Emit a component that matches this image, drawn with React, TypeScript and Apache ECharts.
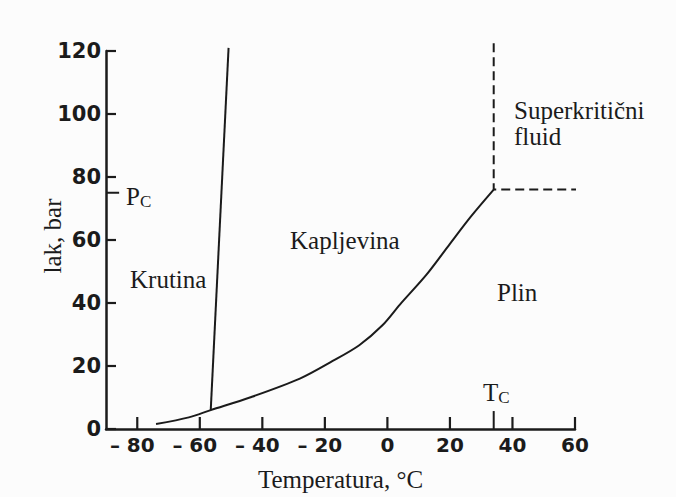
import React, { useEffect, useRef } from "react";
import * as echarts from "echarts";

// ---- data ----
const xTicks = [-80, -60, -40, -20, 0, 20, 40, 60];
const yTicks = [0, 20, 40, 60, 80, 100, 120];

// melting (solid/liquid) line
const meltT = [-56.5, -50.8];
const meltP = [6, 121];

// sublimation + vaporization curve up to the critical point
const vapT = [-74, -63.5, -56.5, -44, -28, -17.5, -9, -1.5, 4, 12.5, 20, 27, 34];
const vapP = [1.6, 3.7, 6, 10, 16, 21.6, 26.6, 33, 39.5, 49, 58.8, 67.8, 76];

// supercritical boundary (dashed)
const superT = [34, 34, 85];
const superP = [122.5, 76, 76];

// critical values marked on the axes
const Tc = 34;
const Pc = 75;

const INK = "#1b1b1b";
const SERIF = "'Liberation Serif', 'Times New Roman', serif";
const SANS = "'DejaVu Sans', sans-serif";

const zip = (a: number[], b: number[]) => a.map((v, i) => [v, b[i]]);

export default function App() {
  const ref = useRef<HTMLDivElement>(null);
  useEffect(() => {
    const chart = echarts.init(ref.current!, null, { renderer: "svg" });
    const labelRich = {
      n: { fontFamily: SANS, fontWeight: "bold", fontSize: 20, color: INK },
      h: { fontFamily: SANS, fontWeight: "bold", fontSize: 20, color: "transparent" },
    };
    const subRich = {
      a: { fontFamily: SERIF, fontSize: 25, fill: INK, color: INK },
      b: { fontFamily: SERIF, fontSize: 17, fill: INK, color: INK, padding: [10, 0, 0, 0] },
    };
    const textEl = (text: string, x: number, y: number) => ({
      type: "text",
      x,
      y,
      style: { text, font: `25px ${SERIF}`, fill: INK, align: "left", verticalAlign: "middle" },
    });
    const xMin = -90;
    const line = (name: string, data: any[], extra: any = {}) => ({
      name,
      type: "line",
      data,
      symbol: "none",
      clip: false,
      silent: true,
      lineStyle: { color: INK, width: 2, ...extra },
    });
    // tick marks: positioned by the axes, length in pixels
    const tickSeries = (name: string, vals: number[], horizontal: boolean, len: number) => ({
      name,
      type: "custom",
      coordinateSystem: "cartesian2d",
      silent: true,
      clip: false,
      data: vals.map((v) => (horizontal ? [xMin, v] : [v, 0])),
      encode: { x: 0, y: 1 },
      renderItem: (params: any, api: any) => {
        const p = api.coord([api.value(0), api.value(1)]);
        const shape = horizontal
          ? { x1: p[0], y1: p[1], x2: p[0] + len, y2: p[1] }
          : { x1: p[0], y1: p[1], x2: p[0], y2: p[1] - len };
        return { type: "line", shape, style: { stroke: INK, lineWidth: 2.2 } };
      },
    });
    const option: any = {
      animation: false,
      backgroundColor: "#fcfcfc",
      grid: { left: 106, top: 51, width: 469, height: 380, containLabel: false },
      xAxis: {
        type: "value",
        min: xMin,
        max: 60,
        name: "Temperatura, °C",
        nameLocation: "middle",
        nameGap: 38,
        nameTextStyle: { fontFamily: SERIF, fontSize: 25, color: INK },
        axisLine: { show: true, onZero: false, lineStyle: { color: INK, width: 2.5 } },
        axisTick: { show: false },
        axisLabel: {
          show: true,
          customValues: xTicks.slice(),
          margin: 6,
          formatter: (v: number) => (v < 0 ? `{n|– ${-v}}{h|–}` : `{n|${v}}`),
          rich: labelRich,
        },
        splitLine: { show: false },
      },
      yAxis: {
        type: "value",
        min: 0,
        max: 120,
        interval: 20,
        axisLine: { show: true, onZero: false, lineStyle: { color: INK, width: 2.5 } },
        axisTick: { show: false },
        axisLabel: { show: true, margin: 5, fontFamily: SANS, fontWeight: "bold", fontSize: 21, color: INK },
        splitLine: { show: false },
      },
      graphic: [
        {
          type: "text",
          x: 52,
          y: 236,
          rotation: Math.PI / 2,
          style: { text: "lak, bar", font: `25px ${SERIF}`, fill: INK, align: "center", verticalAlign: "middle" },
        },
        textEl("Krutina", 130, 279),
        textEl("Kapljevina", 290, 240),
        textEl("Plin", 497, 292),
        textEl("Superkritični", 514, 110),
        textEl("fluid", 514, 136),
        { type: "text", x: 126, y: 196, style: { text: "{a|P}{b|C}", align: "left", verticalAlign: "middle", rich: subRich } },
        { type: "text", x: 483, y: 392, style: { text: "{a|T}{b|C}", align: "left", verticalAlign: "middle", rich: subRich } },
      ],
      series: [
        line("melting", zip(meltT, meltP)),
        { ...line("vapor", zip(vapT, vapP)), smooth: 0.3, clip: true },
        line("supercritical", zip(superT, superP), { type: [9, 5] }),
        line("Tc tick", [[Tc, 0], [Tc, 5.7]]),
        line("Pc tick", [[xMin, Pc], [xMin + 4.2, Pc]]),
        tickSeries("x ticks", xTicks, false, 12),
        tickSeries("y ticks", yTicks, true, 10),
      ],
    };
    chart.setOption(option);
    return () => chart.dispose();
  }, []);
  return (
    <div ref={ref} style={{ position: "absolute", left: 0, top: 0, width: 676, height: 497, background: "#fcfcfc" }} />
  );
}
